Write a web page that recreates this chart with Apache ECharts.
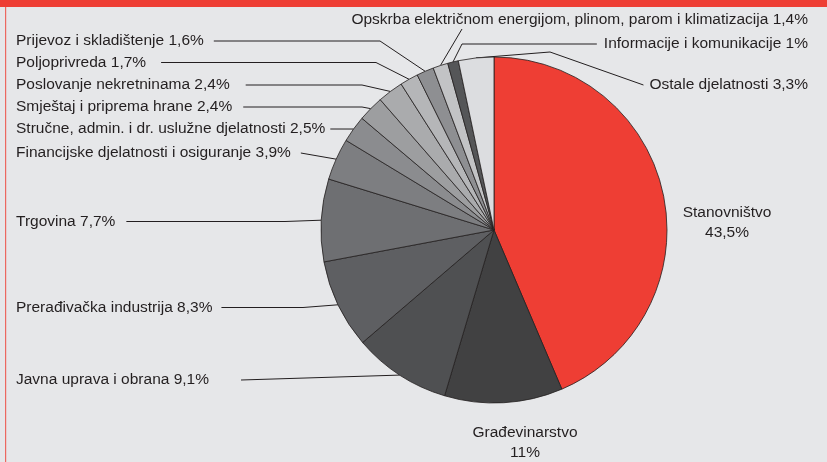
<!DOCTYPE html>
<html>
<head>
<meta charset="utf-8">
<script src="https://cdn.jsdelivr.net/npm/echarts@6/dist/echarts.min.js"></script>
<style>
html,body{margin:0;padding:0;background:#e6e7e9;}
#chart{width:827px;height:462px;}
</style>
</head>
<body>
<div id="chart"></div>
<script>
// ---- data ----
const categories = [
  'Stanovništvo',
  'Građevinarstvo',
  'Javna uprava i obrana',
  'Prerađivačka industrija',
  'Trgovina',
  'Financijske djelatnosti i osiguranje',
  'Stručne, admin. i dr. uslužne djelatnosti',
  'Smještaj i priprema hrane',
  'Poslovanje nekretninama',
  'Poljoprivreda',
  'Prijevoz i skladištenje',
  'Opskrba električnom energijom, plinom, parom i klimatizacija',
  'Informacije i komunikacije',
  'Ostale djelatnosti'
];
const shares = [43.5, 11, 9.1, 8.3, 7.7, 3.9, 2.5, 2.4, 2.4, 1.7, 1.6, 1.4, 1, 3.3];

// ---- styles / layout ----
const sliceColors = ['#ee3e34','#414142','#4f5052','#5e5f62','#6e6f72','#7d7e81','#8b8c8f',
                     '#9d9ea0','#aaabad','#b5b6b8','#8e8f92','#c2c3c5','#555658','#dcdde0'];
// label placement: x, y, align, twoLine, line: gap after text / bend / explicit start
const labelPlacement = [
  {x: 727, y: 223, align: 'center', twoLine: true},
  {x: 525, y: 443, align: 'center', twoLine: true},
  {x: 16, y: 380, align: 'left', gap: 32},
  {x: 16, y: 307.5, align: 'left', gap: 9, bendX: 303},
  {x: 16, y: 221.5, align: 'left', gap: 11, bendX: 285},
  {x: 16, y: 153, align: 'left', gap: 10},
  {x: 16, y: 129, align: 'left', gap: 5},
  {x: 16, y: 107, align: 'left', gap: 11, bendX: 362},
  {x: 16, y: 85, align: 'left', gap: 16, bendX: 362},
  {x: 16, y: 62.5, align: 'left', gap: 15, bendX: 376},
  {x: 16, y: 41, align: 'left', gap: 10, bendX: 380},
  {x: 808, y: 20, align: 'right', startX: 462, startY: 29},
  {x: 808, y: 44, align: 'right', gap: 7, bendX: 462},
  {x: 808, y: 85, align: 'right', gap: 6, bendX: 550, bendY: 52}
];

const fmt = v => String(v).replace('.', ',') + '%';

const seriesData = categories.map((name, i) => {
  const item = { name: name, value: shares[i], itemStyle: { color: sliceColors[i] } };
  if (labelPlacement[i].twoLine) item.labelLine = { show: false };
  return item;
});

const chart = echarts.init(document.getElementById('chart'), null, { renderer: 'canvas' });
chart.setOption({
  backgroundColor: '#e6e7e9',
  animation: false,
  graphic: [
    { type: 'rect', shape: { x: 0, y: 0, width: 827, height: 7 }, style: { fill: '#ee3e34' } },
    { type: 'rect', shape: { x: 5, y: 7, width: 1.2, height: 455 }, style: { fill: '#ec6860' } }
  ],
  series: [{
    type: 'pie',
    center: [494, 230],
    radius: 173,
    startAngle: 90,
    clockwise: true,
    avoidLabelOverlap: false,
    data: seriesData,
    itemStyle: { borderColor: '#231f20', borderWidth: 0.8 },
    label: {
      show: true,
      position: 'outside',
      overflow: 'none',
      color: '#231f20',
      fontFamily: 'Liberation Sans, Arial, sans-serif',
      fontSize: 15.5,
      lineHeight: 20,
      formatter: p => labelPlacement[p.dataIndex].twoLine
        ? p.name + '\n' + fmt(p.value)
        : p.name + ' ' + fmt(p.value)
    },
    labelLine: {
      show: true,
      length: 10,
      length2: 10,
      smooth: false,
      lineStyle: { color: '#231f20', width: 1 }
    },
    labelLayout: function (p) {
      const pl = labelPlacement[p.dataIndex];
      const out = { x: pl.x, y: pl.y, align: pl.align, verticalAlign: 'middle' };
      const pts = p.labelLinePoints;
      if (pts && pts.length && !pl.twoLine) {
        const anchor = pts[0];
        const w = p.labelRect.width;
        const line = [];
        if (pl.startX != null) {
          line.push([pl.startX, pl.startY]);
        } else {
          const sx = pl.align === 'left' ? pl.x + w + pl.gap : pl.x - w - pl.gap;
          line.push([sx, pl.y]);
        }
        if (pl.bendX != null) line.push([pl.bendX, pl.bendY != null ? pl.bendY : pl.y]);
        line.push([anchor[0], anchor[1]]);
        out.labelLinePoints = line;
      }
      return out;
    }
  }]
});
</script>
</body>
</html>
